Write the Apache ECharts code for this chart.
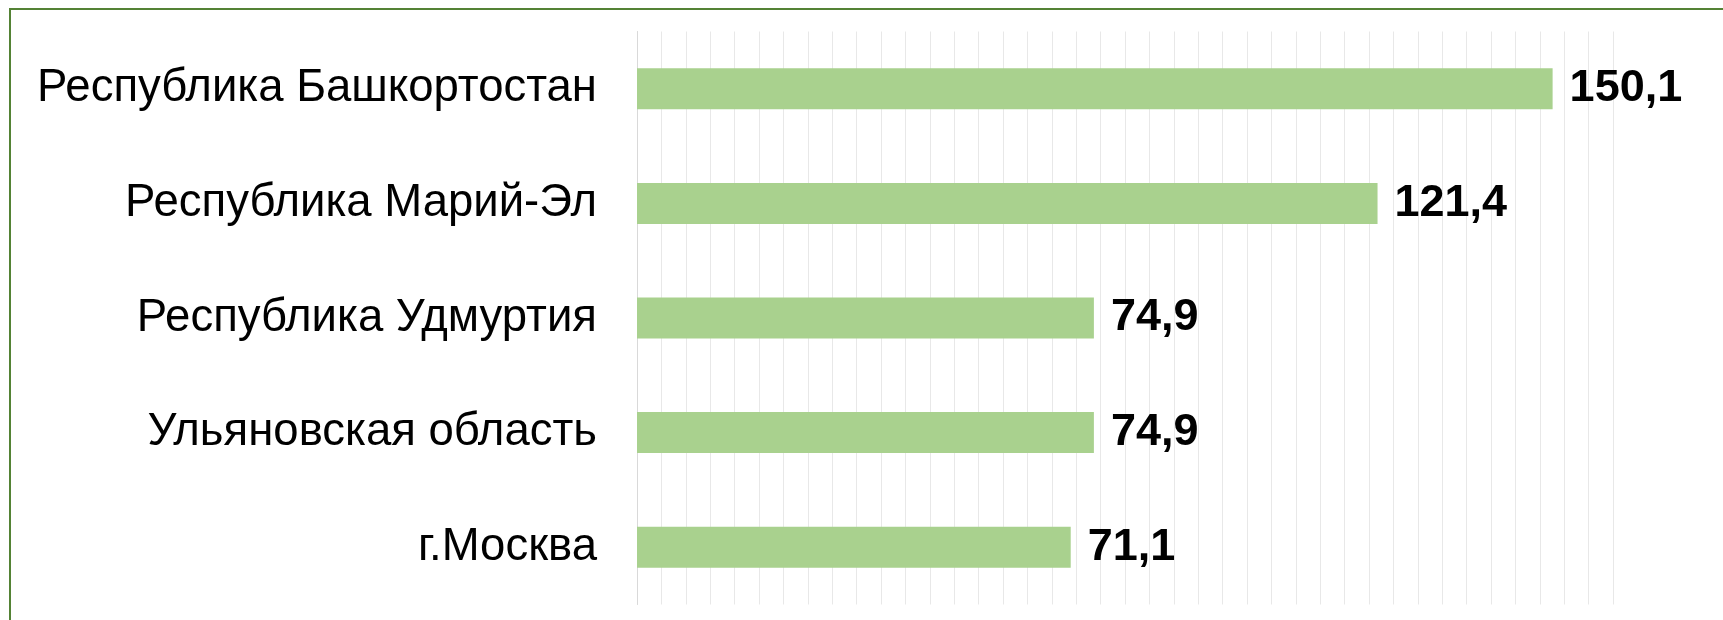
<html>
<head>
    <meta charset="utf-8">
    <title>ECharts</title>
    <script src="https://cdn.jsdelivr.net/npm/echarts@6/dist/echarts.min.js"></script>
    <style>
        html, body { margin: 0; padding: 0; background: #fff; }
    </style>
</head>
<body>
    <div id="main" style="width:1723px;height:620px;"></div>
    <script type="text/javascript">
    // данные
    var regions = ['Республика Башкортостан', 'Республика Марий-Эл', 'Республика Удмуртия', 'Ульяновская область', 'г.Москва'];
    var values = [150.1, 121.4, 74.9, 74.9, 71.1];

    var myChart = echarts.init(document.getElementById('main'));

    var option = {
        animation: false,
        backgroundColor: '#fff',
        textStyle: { fontFamily: 'Liberation Sans, Arial, sans-serif' },
        graphic: [{
            // рамка слева и сверху
            type: 'rect',
            shape: { x: 10, y: 9, width: 2000, height: 2000 },
            style: { fill: 'none', stroke: '#548235', lineWidth: 2 },
            silent: true
        }],
        grid: {
            left: 637,
            right: 110,
            top: 31.5,
            bottom: 15.5,
            containLabel: false
        },
        xAxis: {
            type: 'value',
            min: 0,
            max: 160,
            interval: 4,
            axisLabel: { show: false },
            axisLine: { show: false },
            axisTick: { show: false },
            splitLine: {
                show: true,
                lineStyle: { color: '#e8e8e8', width: 1 }
            }
        },
        yAxis: {
            type: 'category',
            data: regions,
            inverse: true,
            axisLine: {
                show: true,
                lineStyle: { color: '#d9d9d9', width: 1 }
            },
            axisTick: { show: false },
            axisLabel: {
                fontSize: 45.5,
                color: '#000',
                margin: 40
            }
        },
        series: [{
            type: 'bar',
            data: values,
            barWidth: 41,
            itemStyle: { color: '#a9d18e' },
            label: {
                show: true,
                position: 'right',
                distance: 17,
                fontSize: 45,
                fontWeight: 'bold',
                color: '#000',
                formatter: function (p) {
                    return p.value.toFixed(1).replace('.', ',');
                }
            }
        }]
    };
    myChart.setOption(option);
    </script>
</body>
</html>
